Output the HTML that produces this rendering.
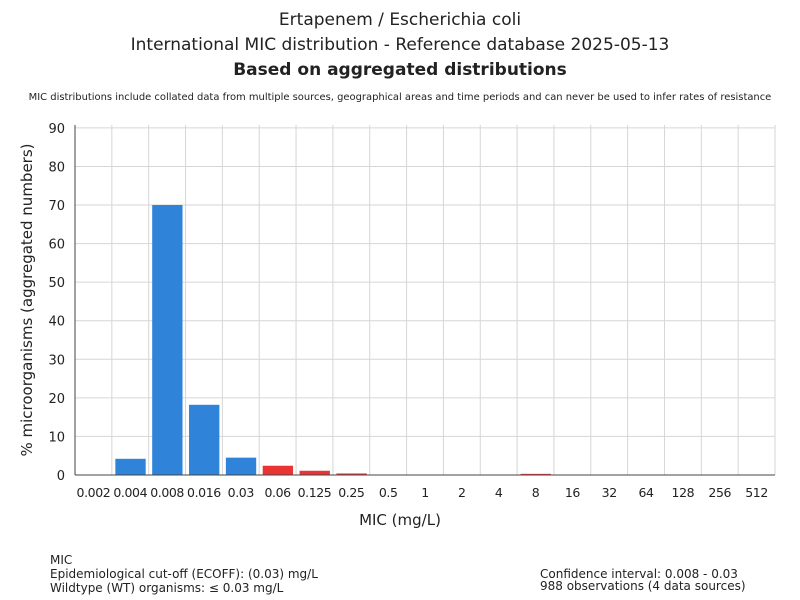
<!DOCTYPE html>
<html><head><meta charset="utf-8"><style>body{margin:0;background:#fff}svg{display:block}text{font-family:"DejaVu Sans","Liberation Sans",sans-serif;fill:#222}</style></head>
<body>
<svg width="800" height="600" xmlns="http://www.w3.org/2000/svg">
<text x="400" y="25" font-size="17" text-anchor="middle">Ertapenem / Escherichia coli</text>
<text x="400" y="50" font-size="17" text-anchor="middle">International MIC distribution - Reference database 2025-05-13</text>
<text x="400" y="75" font-size="17" font-weight="bold" text-anchor="middle">Based on aggregated distributions</text>
<text x="400" y="100" font-size="9.95" text-anchor="middle">MIC distributions include collated data from multiple sources, geographical areas and time periods and can never be used to infer rates of resistance</text>
<g id="g"></g>
<line x1="75" y1="125" x2="75" y2="475" stroke="#444"/>
<line x1="75" y1="475" x2="775" y2="475" stroke="#444"/>
<text transform="translate(32,300) rotate(-90)" font-size="15" text-anchor="middle">% microorganisms (aggregated numbers)</text>
<text x="400" y="525" font-size="15" text-anchor="middle">MIC (mg/L)</text>
<text x="50" y="564" font-size="12">MIC</text>
<text x="50" y="578" font-size="12">Epidemiological cut-off (ECOFF): (0.03) mg/L</text>
<text x="50" y="592" font-size="12">Wildtype (WT) organisms: ≤ 0.03 mg/L</text>
<text x="540" y="578" font-size="12">Confidence interval: 0.008 - 0.03</text>
<text x="540" y="590" font-size="12">988 observations (4 data sources)</text>
</svg>
<script>
const s=document.querySelector('svg'),g=document.getElementById('g'),ns='http://www.w3.org/2000/svg';
function el(t,a,txt){const e=document.createElementNS(ns,t);for(const k in a)e.setAttribute(k,a[k]);if(txt!=null)e.textContent=txt;g.appendChild(e);return e;}
const y0=475,k=3.857;
for(let v=0;v<=90;v+=10){const y=y0-v*k;if(v>0)el('line',{x1:75,x2:775,y1:y,y2:y,stroke:'#d6d6d6'});el('text',{x:65,y:y+5,'font-size':13,'text-anchor':'end'},v);}
const labs=['0.002','0.004','0.008','0.016','0.03','0.06','0.125','0.25','0.5','1','2','4','8','16','32','64','128','256','512'];
const vals=[0,4.2,70,18.2,4.5,2.4,1.1,0.4,0,0,0,0,0.3,0,0,0,0,0,0];
const w=700/19;
for(let i=1;i<=19;i++){const x=75+i*w;el('line',{x1:x,x2:x,y1:125,y2:475,stroke:'#d6d6d6'});}
labs.forEach((l,i)=>{const x=75+i*w;el('text',{x:x+w/2,y:497,'font-size':12.5,'letter-spacing':'-0.4','text-anchor':'middle'},l);
if(vals[i]>0){const h=vals[i]*k;el('rect',{x:x+3.5,y:y0-h,width:w-6.5,height:h,fill:i<=4?'#2f84d9':'#ea3434'});}});
</script>
</body></html>
